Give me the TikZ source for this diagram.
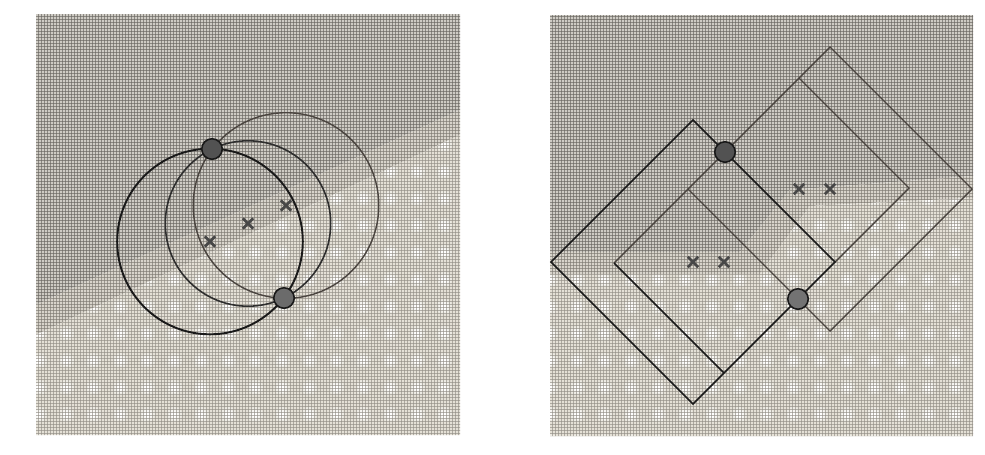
\documentclass[tikz,border=0pt]{standalone}
\usepackage{tikz}
\usetikzlibrary{shapes.misc,patterns,patterns.meta}
\definecolor{bgdark}{RGB}{206,203,196}
\definecolor{bgmid}{RGB}{216,212,203}
\definecolor{bglight}{RGB}{228,224,214}
\definecolor{meshdark}{RGB}{104,101,96}
\definecolor{meshmid}{RGB}{124,120,113}
\definecolor{meshlight}{RGB}{146,142,134}
\definecolor{inkgray}{RGB}{74,68,63}
% fine screen of the print
\tikzdeclarepattern{
  name=mesh, type=uncolored,
  bottom left={(0pt,0pt)}, top right={(1.7pt,1.7pt)},
  tile size={(1.7pt,1.7pt)},
  code={\tikzset{x=1pt,y=1pt}
    \fill (0,0) rectangle (1.7,0.3);
    \fill (0,0) rectangle (0.3,1.7);}
}
% bright blobs of the lower half
\tikzdeclarepattern{
  name=blobs, type=colored,
  bottom left={(0pt,0pt)}, top right={(15.3pt,15.3pt)},
  tile size={(15.3pt,15.3pt)},
  code={\tikzset{x=1pt,y=1pt}
    \fill[white!35!bglight] (7.6,7.6) circle (4.4);
    \fill[white!70!bglight] (7.6,7.6) circle (3.1);
    \fill[white] (7.6,7.6) circle (1.8);}
}

\begin{document}
\begin{tikzpicture}[x=0.02cm,y=-0.02cm,
    keypt/.style={circle,draw=black!90,line width=0.9pt,fill=black!68,minimum size=0.41cm,inner sep=0pt},
    ctr/.style={cross out,draw=black!72,line width=1.6pt,minimum size=0.15cm,inner sep=0pt},
    ringA/.style={black!90,line width=1.1pt},
    ringB/.style={black!82,line width=0.9pt},
    ringC/.style={inkgray,line width=0.8pt},
    boxA/.style={black!90,line width=0.95pt},
    boxB/.style={inkgray,line width=0.8pt}]
        \useasboundingbox (0,0) rectangle (985,454);
        %Shade (left panel)
        \fill[bgdark] (36,14) -- (460,14) -- (460,110) -- (36,305) -- cycle;
        \fill[pattern=mesh,pattern color=meshdark] (36,14) -- (460,14) -- (460,110) -- (36,305) -- cycle;
        \fill[bgmid] (36,305) -- (460,110) -- (460,135) -- (36,335) -- cycle;
        \fill[pattern=mesh,pattern color=meshmid] (36,305) -- (460,110) -- (460,135) -- (36,335) -- cycle;
        \fill[bglight] (36,335) -- (460,135) -- (460,435) -- (36,435) -- cycle;
        \fill[pattern=blobs] (36,335) -- (460,135) -- (460,435) -- (36,435) -- cycle;
        \fill[pattern=mesh,pattern color=meshlight] (36,335) -- (460,135) -- (460,435) -- (36,435) -- cycle;
        %Shade (right panel)
        \fill[bgdark] (550,15) -- (973,15) -- (973,176) -- (790,190) -- (740,252) -- (550,252) -- cycle;
        \fill[pattern=mesh,pattern color=meshdark] (550,15) -- (973,15) -- (973,176) -- (790,190) -- (740,252) -- (550,252) -- cycle;
        \fill[bgmid] (550,252) -- (740,252) -- (790,190) -- (973,176) -- (973,198) -- (810,206) -- (760,274) -- (550,274) -- cycle;
        \fill[pattern=mesh,pattern color=meshmid] (550,252) -- (740,252) -- (790,190) -- (973,176) -- (973,198) -- (810,206) -- (760,274) -- (550,274) -- cycle;
        \fill[bglight] (550,274) -- (760,274) -- (810,206) -- (973,198) -- (973,436) -- (550,436) -- cycle;
        \fill[pattern=blobs] (550,274) -- (760,274) -- (810,206) -- (973,198) -- (973,436) -- (550,436) -- cycle;
        \fill[pattern=mesh,pattern color=meshlight] (550,274) -- (760,274) -- (810,206) -- (973,198) -- (973,436) -- (550,436) -- cycle;

        %Circles
        \coordinate (oA) at (210,241.5);
        \coordinate (oB) at (248,223.5);
        \coordinate (oC) at (286,205.5);
        \draw[ringC] (oC) circle[radius=92.8];
        \draw[ringB] (oB) circle[radius=82.7];
        \draw[ringA] (oA) circle[radius=92.8];

        %Squares
        \coordinate (w1) at (551,262);
        \coordinate (n1) at (693,120);
        \coordinate (e1) at (835,262);
        \coordinate (s1) at (693,404);
        \coordinate (w2) at (688,189);
        \coordinate (n2) at (830,47);
        \coordinate (e2) at (972,189);
        \coordinate (s2) at (830,331);
        \coordinate (l1) at (614,263);
        \coordinate (b1) at (724,373);
        \coordinate (l2) at (909,188);
        \coordinate (t2) at (799,78);
        \draw[boxB] (w2) -- (n2) -- (e2) -- (s2) -- cycle;
        \draw[boxB] (w2) -- (l1);
        \draw[boxB] (t2) -- (l2) -- (e1);
        \draw[boxA] (w1) -- (n1) -- (e1) -- (s1) -- cycle;
        \draw[boxA] (l1) -- (b1);

        %Draw nodes
        \node[keypt] (kp1) at (212,149) {};
        \node[keypt,fill=black!58] (kp2) at (284,298) {};
        \node[keypt] (kq1) at (725,152) {};
        \node[keypt,fill=black!55] (kq2) at (798,299) {};
        \node[ctr] (xa) at (oA) {};
        \node[ctr] (xb) at (oB) {};
        \node[ctr] (xc) at (oC) {};
        \node[ctr] (xd) at (693,262) {};
        \node[ctr] (xe) at (724,262) {};
        \node[ctr] (xf) at (799,189) {};
        \node[ctr] (xg) at (830,189) {};
\end{tikzpicture}
\end{document}
